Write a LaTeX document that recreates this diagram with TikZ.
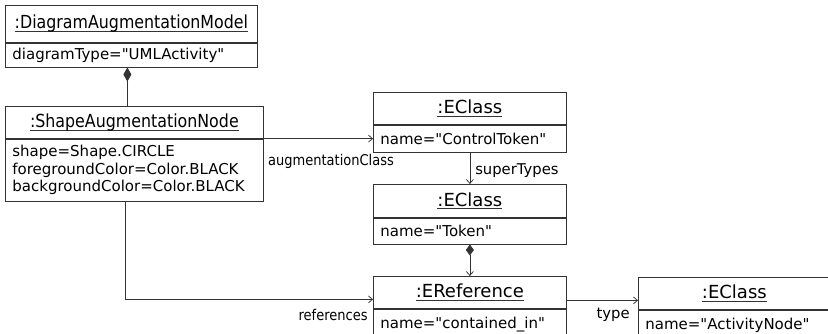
\documentclass[tikz,border=0pt]{standalone}
\usepackage{fontspec}
\setmainfont{DejaVu Sans}[Ligatures=TeXOff]
\newfontfamily\narrowsans{DejaVu Sans}[FakeStretch=0.88, Ligatures=TeXOff]
\usetikzlibrary{arrows.meta,positioning}
\definecolor{umlline}{HTML}{333333}
% underlined object name, rule at a fixed depth below the baseline
\newcommand{\objname}[1]{\setbox0\hbox{#1}\rlap{\color{umlline}\vrule width\wd0 height -2.2pt depth 3pt}\box0}

\begin{document}
\begin{tikzpicture}[
  x=1pt, y=-1pt,
  objtitle/.style={draw=umlline, line width=0.75pt, anchor=north west, inner sep=0pt,
                   minimum height=32pt, font=\fontsize{18}{21}\selectfont},
  objattr/.style={draw=umlline, line width=0.75pt, anchor=north west, inner xsep=7pt,
                  inner ysep=0pt, align=left, font=\fontsize{15}{17.5}\selectfont},
  assoc/.style={-{Straight Barb[length=4pt,width=7pt]}, line width=0.75pt, draw=umlline},
  comp/.style={line width=0.75pt, draw=umlline},
  rolelabel/.style={font=\fontsize{14.8}{17}\selectfont, inner sep=1pt}
]
\clip (0,0) rectangle (828,333);

% objects
\node[objtitle, minimum width=252pt, minimum height=37pt] (dam) at (5,5) {\narrowsans\objname{:DiagramAugmentationModel}};
\node[objattr, minimum width=252pt, minimum height=24pt, text width=238pt] (damA) at (dam.south west) {diagramType="UMLActivity"};

\node[objtitle, minimum width=258pt] (san) at (5,106) {\narrowsans\objname{:ShapeAugmentationNode}};
\node[objattr, minimum width=258pt, minimum height=62pt, text width=244pt] (sanA) at (san.south west) {shape=Shape.CIRCLE\\foregroundColor=Color.BLACK\\backgroundColor=Color.BLACK};

\node[objtitle, minimum width=193pt] (ctl) at (373,92) {\objname{:EClass}};
\node[objattr, minimum width=193pt, minimum height=27pt, text width=179pt] (ctlA) at (ctl.south west) {name="ControlToken"};

\node[objtitle, minimum width=193pt, minimum height=33pt] (tok) at (373,184) {\objname{:EClass}};
\node[objattr, minimum width=193pt, minimum height=26pt, text width=179pt] (tokA) at (tok.south west) {name="Token"};

\node[objtitle, minimum width=193pt] (ref) at (373,276) {\objname{:EReference}};
\node[objattr, minimum width=193pt, minimum height=30pt, text width=179pt] (refA) at (ref.south west) {name="contained\_in"};

\node[objtitle, minimum width=192pt] (act) at (638,277) {\objname{:EClass}};
\node[objattr, minimum width=192pt, minimum height=30pt, text width=178pt] (actA) at (act.south west) {name="ActivityNode"};

% links
\draw[comp, {Diamond[length=14pt,width=8pt]}-] ([xshift=-4pt]damA.south) -- ([xshift=-4pt]damA.south |- san.north);
\draw[assoc] (sanA.east |- ctlA.west) -- (ctlA.west)
  node[rolelabel, pos=0, anchor=west, xshift=3pt, yshift=-23pt] {\narrowsans augmentationClass};
\draw[assoc] (ctlA.south) -- (tok.north)
  node[rolelabel, pos=0.58, anchor=west, xshift=4pt] {superTypes};
\draw[comp, {Diamond[length=11pt,width=8pt]}-{Straight Barb[length=4pt,width=7pt]}] (tokA.south) -- (ref.north);
\draw[assoc] ([xshift=-9pt]sanA.south) |- ([yshift=-7pt]ref.west)
  node[rolelabel, pos=1, anchor=north east, xshift=-4pt, yshift=-8pt] {\narrowsans references};
\draw[assoc] ([yshift=-8pt]ref.east) -- ([yshift=-8pt]ref.east -| act.west)
  node[rolelabel, pos=1, anchor=north east, xshift=-7pt, yshift=-6pt] {type};
\end{tikzpicture}
\end{document}
